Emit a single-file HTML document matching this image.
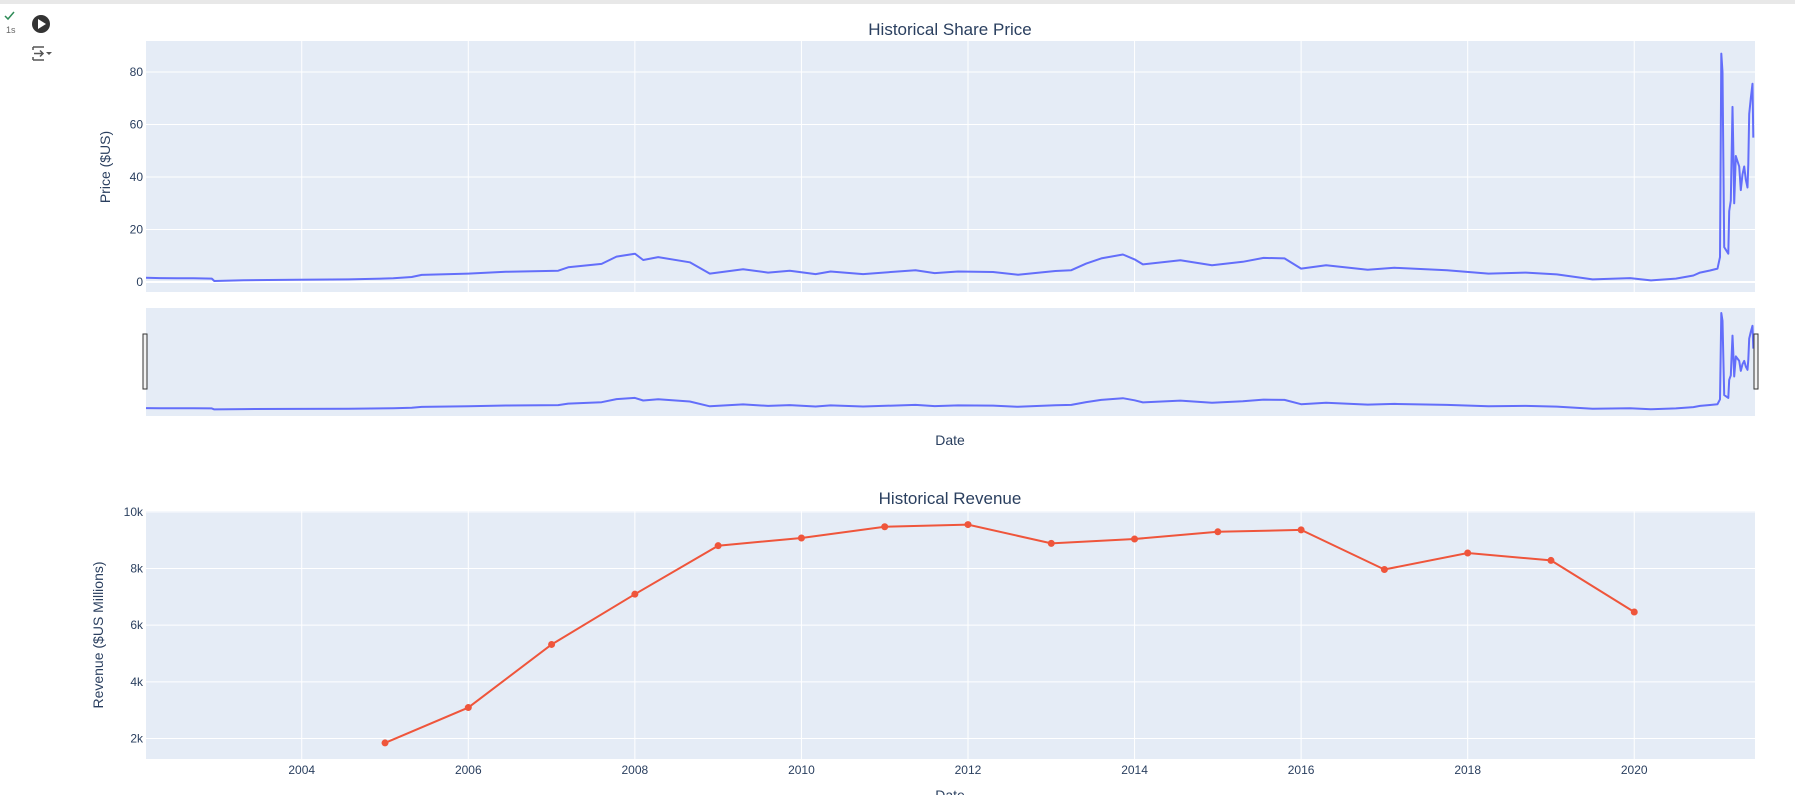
<!DOCTYPE html>
<html><head><meta charset="utf-8"><style>
body{margin:0;background:#fff;width:1795px;height:795px;overflow:hidden;font-family:"Liberation Sans",sans-serif}
svg{position:absolute;left:0;top:0}
</style></head><body>
<svg id="c" width="1795" height="795" xmlns="http://www.w3.org/2000/svg">
<rect x="0" y="0" width="1795" height="4" fill="#e8e8e8"/>
<g>
<path d="M5 16 L8 19 L14 12" stroke="#2e8b57" stroke-width="1.5" fill="none"/>
<text x="6" y="33" font-size="9" fill="#666">1s</text>
</g>
<g><circle cx="41" cy="24" r="9" fill="#333"/><path d="M38 19 L46 24 L38 29Z" fill="#fff"/></g>
<g stroke="#555" stroke-width="1.5" fill="none"><path d="M33 47 H44 M33 60 H44 M33 47 V50 M33 57 V60 M34 53.5 H43 M40 50.5 L43 53.5 L40 56.5"/><path d="M46 52 L52 52 L49 55Z" fill="#555" stroke="none"/></g>
</svg>
<script>
// ---- price data (decimal years, $US) ----
const priceDates=[2002.13,2002.3,2002.5,2002.7,2002.92,2002.95,2003.3,2003.93,2004.56,2005.1,2005.32,2005.44,2006.0,2006.45,2007.08,2007.2,2007.6,2007.78,2008.0,2008.1,2008.28,2008.66,2008.9,2009.3,2009.6,2009.86,2010.17,2010.35,2010.74,2011.37,2011.6,2011.88,2012.3,2012.6,2013.05,2013.24,2013.42,2013.6,2013.86,2014.0,2014.1,2014.55,2014.93,2015.3,2015.55,2015.8,2016.0,2016.3,2016.8,2017.12,2017.75,2018.25,2018.7,2019.07,2019.5,2019.95,2020.2,2020.5,2020.71,2020.79,2020.91,2021.0,2021.03,2021.045,2021.06,2021.08,2021.13,2021.14,2021.16,2021.18,2021.19,2021.2,2021.22,2021.26,2021.28,2021.3,2021.32,2021.34,2021.36,2021.37,2021.38,2021.4,2021.42,2021.43];
const priceValues=[1.6,1.5,1.4,1.4,1.3,0.4,0.7,0.9,1.0,1.4,1.9,2.7,3.2,3.9,4.3,5.6,6.9,9.7,10.8,8.4,9.5,7.5,3.2,4.9,3.6,4.3,3.0,4.0,3.0,4.5,3.4,4.0,3.8,2.8,4.2,4.5,7.0,9.0,10.5,8.6,6.7,8.3,6.4,7.7,9.2,9.0,5.1,6.4,4.7,5.4,4.5,3.2,3.6,2.9,1.0,1.5,0.6,1.3,2.5,3.6,4.4,5.1,9.5,87,80,13.3,10.8,27,31,66.7,51,30,48,44,35,41,44,39,36,45,64,70,75.5,55];
// ---- revenue data ----
const revYears=[2005,2006,2007,2008,2009,2010,2011,2012,2013,2014,2015,2016,2017,2018,2019,2020];
const revValues=[1843,3092,5319,7094,8806,9078,9474,9551,8887,9040,9296,9364,7965,8547,8285,6466];
const yearTicks=[2004,2006,2008,2010,2012,2014,2016,2018,2020];
const priceTicks=[0,20,40,60,80];
const revTicks=[2000,4000,6000,8000,10000];
const revTickLabels=["2k","4k","6k","8k","10k"];

const svg=document.getElementById('c');
const NS='http://www.w3.org/2000/svg';
function el(tag,attrs,parent){const e=document.createElementNS(NS,tag);for(const k in attrs)e.setAttribute(k,attrs[k]);(parent||svg).appendChild(e);return e;}
const L=146,R=1755,X0=2002.13,X1=2021.45;
const xs=v=>L+(v-X0)/(X1-X0)*(R-L);
function lin(d0,d1,p0,p1){return v=>p0+(v-d0)/(d1-d0)*(p1-p0);}
const yP=lin(-3.8,91.8,292,41);
const yS=lin(-5.5,91.5,416,308);
const yR=lin(1276,10030,759,511);

// panels
let r;
r=el('rect',{x:L,y:41,width:R-L,height:251,fill:'#e5ecf6'});

r=el('rect',{x:L,y:308,width:R-L,height:108,fill:'#e5ecf6'});

r=el('rect',{x:L,y:511,width:R-L,height:248,fill:'#e5ecf6'});


// gridlines
yearTicks.forEach(t=>{
  const x=xs(t);
  let g=el('line',{x1:x,x2:x,y1:41,y2:292,stroke:'#fff','stroke-width':1});
  
  g=el('line',{x1:x,x2:x,y1:511,y2:759,stroke:'#fff','stroke-width':1});
  
  const tx=el('text',{x:x,y:774,'font-size':12,fill:'#2a3f5f','text-anchor':'middle'});
  tx.textContent=t;
  
});
priceTicks.forEach(t=>{
  const y=yP(t);
  const g=el('line',{x1:L,x2:R,y1:y,y2:y,stroke:'#fff','stroke-width':t===0?2:1});
  
  const tx=el('text',{x:143,y:y+4,'font-size':12,fill:'#2a3f5f','text-anchor':'end'});
  tx.textContent=t;
  
});
revTicks.forEach((t,i)=>{
  const y=yR(t);
  const g=el('line',{x1:L,x2:R,y1:y,y2:y,stroke:'#fff','stroke-width':1});
  
  const tx=el('text',{x:143,y:y+4,'font-size':12,fill:'#2a3f5f','text-anchor':'end'});
  tx.textContent=revTickLabels[i];
  
});

// price lines
const pm=priceDates.map((d,i)=>xs(d).toFixed(1)+','+yP(priceValues[i]).toFixed(1)).join(' ');
let pl=el('polyline',{points:pm,fill:'none',stroke:'#636efa','stroke-width':2,'stroke-linejoin':'round'});

const sm=priceDates.map((d,i)=>xs(d).toFixed(1)+','+yS(priceValues[i]).toFixed(1)).join(' ');
pl=el('polyline',{points:sm,fill:'none',stroke:'#636efa','stroke-width':2,'stroke-linejoin':'round'});

// slider handles
r=el('rect',{x:L-3,y:334,width:4,height:55,fill:'#f2f2f2',stroke:'#333','stroke-width':1});

r=el('rect',{x:R-1,y:334,width:4,height:55,fill:'#f2f2f2',stroke:'#333','stroke-width':1});


// revenue
const rm=revYears.map((d,i)=>xs(d).toFixed(1)+','+yR(revValues[i]).toFixed(1)).join(' ');
pl=el('polyline',{points:rm,fill:'none',stroke:'#ef553b','stroke-width':2});

revYears.forEach((d,i)=>{
  const c=el('circle',{cx:xs(d),cy:yR(revValues[i]),r:3.5,fill:'#ef553b'});
  
});

// titles
function txt(s,attrs,name){const t=el('text',attrs);t.textContent=s;return t;}
txt('Historical Share Price',{x:950,y:35,'font-size':17,fill:'#2a3f5f','text-anchor':'middle'},'price-chart-title');
txt('Historical Revenue',{x:950,y:504,'font-size':17,fill:'#2a3f5f','text-anchor':'middle'},'revenue-chart-title');
txt('Date',{x:950,y:445,'font-size':14,fill:'#2a3f5f','text-anchor':'middle'},'price-x-axis-title');
txt('Date',{x:950,y:800,'font-size':14,fill:'#2a3f5f','text-anchor':'middle'},'revenue-x-axis-title');
txt('Price ($US)',{x:0,y:0,'font-size':14,fill:'#2a3f5f','text-anchor':'middle',transform:'translate(110,167) rotate(-90)'},'price-y-axis-title');
txt('Revenue ($US Millions)',{x:0,y:0,'font-size':14,fill:'#2a3f5f','text-anchor':'middle',transform:'translate(103,635) rotate(-90)'},'revenue-y-axis-title');
</script>
</body></html>
